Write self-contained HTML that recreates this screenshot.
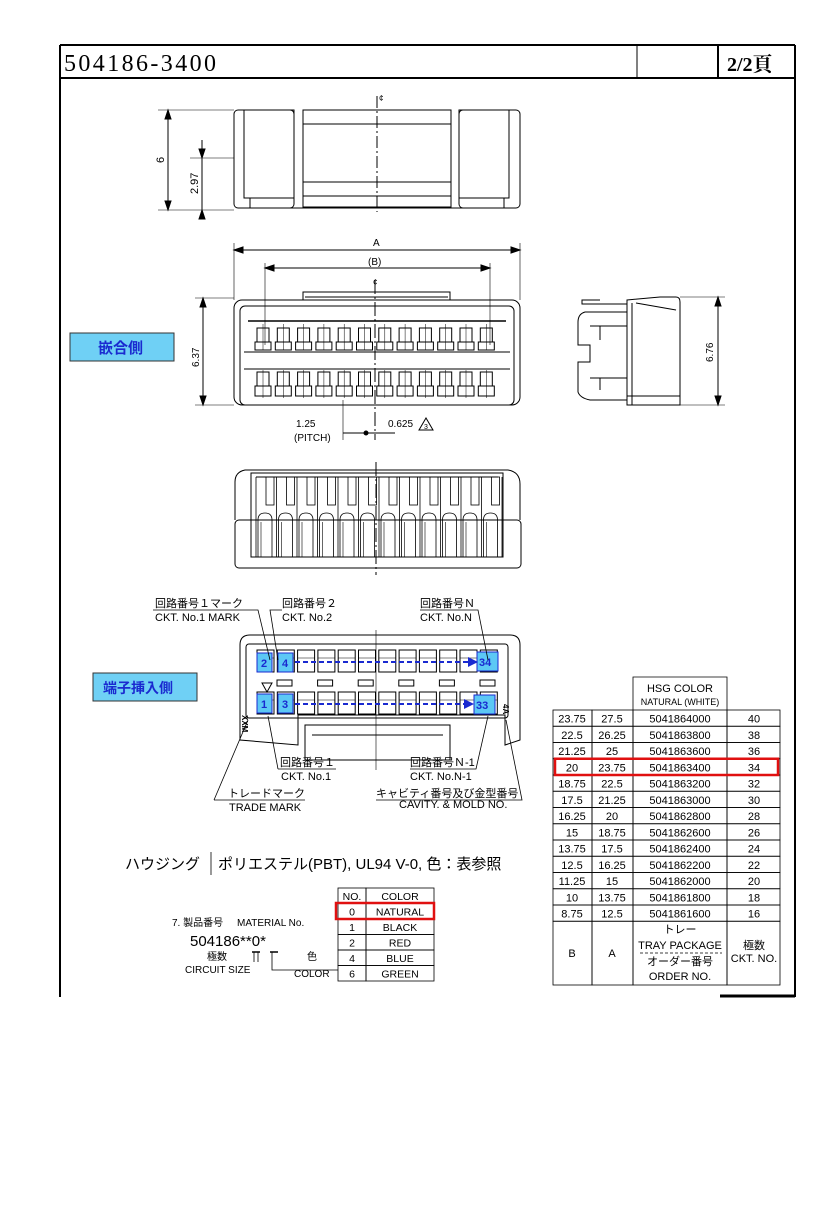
<!DOCTYPE html>
<html><head><meta charset="utf-8">
<style>
html,body{margin:0;padding:0;background:#fff;}
svg{display:block;}
text{font-family:"Liberation Sans","Noto Sans CJK JP",sans-serif;fill:#000;}
.s{font-family:"Liberation Serif","Noto Serif CJK SC",serif;}
</style></head><body>
<svg id="d" width="827" height="1205" viewBox="0 0 827 1205" xmlns="http://www.w3.org/2000/svg" fill="none" stroke="#000" stroke-width="1">
<line x1="60" y1="45" x2="795" y2="45" stroke-width="2"/>
<line x1="60" y1="45" x2="60" y2="997" stroke-width="2"/>
<line x1="795" y1="45" x2="795" y2="997" stroke-width="2"/>
<line x1="60" y1="78" x2="795" y2="78" stroke-width="2"/>
<line x1="637" y1="45" x2="637" y2="78"/>
<line x1="718" y1="45" x2="718" y2="78" stroke-width="2"/>
<line x1="720" y1="996" x2="795" y2="996" stroke-width="3"/>
<text x="64" y="71" class="s" font-size="24" stroke="none" textLength="152">504186-3400</text>
<text x="727" y="71" font-size="20" font-weight="bold" class="s" stroke="none">2/2頁</text>

<g stroke-width="1">
<rect x="234" y="110" width="60" height="98" rx="4"/>
<rect x="244" y="110" width="50" height="88"/>
<rect x="459" y="110" width="61" height="98" rx="4"/>
<rect x="459" y="110" width="50" height="88"/>
<rect x="303" y="110" width="148" height="97"/>
<line x1="303" y1="124" x2="451" y2="124"/>
<line x1="303" y1="182" x2="451" y2="182"/>
<line x1="303" y1="196" x2="451" y2="196"/>
<line x1="244" y1="208" x2="510" y2="208"/>
<line x1="250" y1="198" x2="250" y2="208"/><line x1="504" y1="198" x2="504" y2="208"/>
<line x1="377" y1="96" x2="377" y2="212" stroke-dasharray="12,3,2,3"/>
<line x1="158" y1="110" x2="234" y2="110" stroke-width=".6"/>
<line x1="190" y1="158" x2="234" y2="158" stroke-width=".6"/>
<line x1="158" y1="210" x2="234" y2="210" stroke-width=".6"/>
<line x1="168" y1="110" x2="168" y2="210"/>
<line x1="202" y1="140" x2="202" y2="215"/>
</g>
<path d="M168 110 l-3 9 h6z M168 210 l-3 -9 h6z M202 158 l-3 -9 h6z M202 210 l-3 9 h6z" fill="#000"/>
<text x="379" y="101" font-size="8" stroke="none">¢</text>
<text transform="translate(164,163) rotate(-90)" font-size="11" stroke="none">6</text>
<text transform="translate(198,194) rotate(-90)" font-size="11" stroke="none">2.97</text>

<line x1="234" y1="243" x2="234" y2="300" stroke-width=".6"/>
<line x1="520" y1="243" x2="520" y2="300" stroke-width=".6"/>
<line x1="234" y1="250" x2="520" y2="250"/>
<line x1="265" y1="263" x2="265" y2="345" stroke-width=".6"/>
<line x1="490" y1="263" x2="490" y2="345" stroke-width=".6"/>
<line x1="265" y1="268" x2="490" y2="268"/>
<path d="M234 250 l9 -3 v6z M520 250 l-9 -3 v6z M265 268 l9 -3 v6z M490 268 l-9 -3 v6z" fill="#000"/>
<text x="373" y="246" font-size="10" stroke="none">A</text>
<text x="368" y="265" font-size="10" stroke="none">(B)</text>
<text x="373" y="285" font-size="8" stroke="none">¢</text>
<line x1="195" y1="298" x2="234" y2="298" stroke-width=".6"/>
<line x1="195" y1="405" x2="234" y2="405" stroke-width=".6"/>
<line x1="203" y1="298" x2="203" y2="405"/>
<path d="M203 298 l-3 9 h6z M203 405 l-3 -9 h6z" fill="#000"/>
<text transform="translate(199,367) rotate(-90)" font-size="10" stroke="none">6.37</text>
<g id="front">
<rect x="234" y="300" width="286" height="105" rx="8"/>
<rect x="240" y="306" width="274" height="99" rx="5"/>
<path d="M303 300 V292 H450 V300"/>
<line x1="305" y1="297" x2="448" y2="297"/>
<line x1="248" y1="321" x2="506" y2="321" stroke-width="1.4"/>
<line x1="244" y1="369" x2="510" y2="369"/>
<line x1="244" y1="352" x2="510" y2="352"/>
</g>
<line x1="375" y1="280" x2="375" y2="440" stroke-dasharray="14,3,2,3"/>
<line x1="343" y1="433" x2="395" y2="433"/>
<circle cx="366" cy="433" r="2" fill="#000"/>
<line x1="343" y1="400" x2="343" y2="440" stroke-width=".6"/>
<text x="296" y="427" font-size="10" stroke="none">1.25</text>
<text x="294" y="441" font-size="10" stroke="none">(PITCH)</text>
<text x="388" y="427" font-size="10" stroke="none">0.625</text>
<path d="M419 430 l7 -12 l7 12z"/>
<text x="424" y="429" font-size="7" stroke="none">3</text>

<g>
<path d="M627 300 L660 297 L676 297 Q680 297 680 302 V405 H627 Z"/>
<line x1="632" y1="303" x2="632" y2="405"/>
<path d="M636 303 L676 310"/><line x1="627" y1="396" x2="680" y2="396"/>
<path d="M627 304 H582 V300 H600"/>
<path d="M627 312 H585 Q578 314 578 322 V345 H590 V362 H578 V392 Q580 398 590 400 H627"/>
<line x1="590" y1="326" x2="627" y2="326"/><line x1="590" y1="378" x2="627" y2="378"/>
<line x1="600" y1="326" x2="600" y2="340"/><line x1="600" y1="378" x2="600" y2="390"/>
<line x1="680" y1="297" x2="725" y2="297" stroke-width=".6"/>
<line x1="680" y1="405" x2="725" y2="405" stroke-width=".6"/>
<line x1="718" y1="297" x2="718" y2="405"/>
<path d="M718 297 l-3 9 h6z M718 405 l-3 -9 h6z" fill="#000"/>
</g>
<text transform="translate(713,362) rotate(-90)" font-size="10" stroke="none">6.76</text>

<rect x="70" y="333" width="104" height="28" fill="#6fd0f5" stroke="#333"/>
<text x="98" y="353" font-size="15" font-weight="bold" style="fill:#1a2ad0" stroke="none">嵌合側</text>

<g id="bot">
<path d="M235 520 V482 Q235 472 245 470 H508 Q520 472 520 484 V520"/>
<rect x="235" y="520" width="286" height="48" rx="4"/>
<rect x="251" y="473" width="252" height="84"/>
<line x1="256" y1="477" x2="498" y2="477"/>
</g>
<line x1="376" y1="462" x2="376" y2="575" stroke-dasharray="14,3,2,3"/>

<g>
<path d="M240 740 V645 Q240 635 250 635 H510 Q520 635 520 645 V740 L505 745 V715 H298 V745 Z"/>
<rect x="246" y="644" width="262" height="74" rx="3"/>
<path d="M305 725 H450 V760 H305 Z"/>
<line x1="312" y1="735" x2="443" y2="735"/>
</g>
<line x1="376" y1="630" x2="376" y2="770" stroke-width=".6"/>
<g id="rear" stroke-width="1"></g>
<text x="247" y="726" font-size="8" font-weight="bold" stroke="none" transform="rotate(90,250,718)">XXM</text>
<text x="502" y="715" font-size="8" font-weight="bold" stroke="none" transform="rotate(90,508,710)">4A</text>
<path d="M262 683 h10 l-5 9z"/>
<rect x="93" y="673" width="104" height="28" fill="#6fd0f5" stroke="#333"/>
<text x="103" y="693" font-size="14" font-weight="bold" style="fill:#1a2ad0" stroke="none">端子挿入側</text>
<g font-size="11" stroke="none">
<text x="155" y="607">回路番号１マーク</text>
<text x="155" y="621">CKT. No.1 MARK</text>
<text x="282" y="607">回路番号２</text>
<text x="282" y="621">CKT. No.2</text>
<text x="420" y="607">回路番号Ｎ</text>
<text x="420" y="621">CKT. No.N</text>
<text x="280" y="766">回路番号１</text>
<text x="281" y="780">CKT. No.1</text>
<text x="410" y="766">回路番号Ｎ-1</text>
<text x="410" y="780">CKT. No.N-1</text>
<text x="228" y="797">トレードマーク</text>
<text x="229" y="811">TRADE MARK</text>
<text x="376" y="797">キャビティ番号及び金型番号</text>
<text x="399" y="808">CAVITY. &amp; MOLD NO.</text>
</g>
<g stroke-width=".8">
<path d="M153 610 H258 L270 660"/>
<path d="M282 610 H270 L278 660"/>
<path d="M420 610 H478 L488 660"/>
<path d="M278 769 H336"/><path d="M278 769 L268 716"/>
<path d="M410 769 H476 L488 716"/>
<path d="M214 800 H305"/><path d="M214 800 L248 720"/>
<path d="M376 800 H522 L506 720"/>
</g>

<text x="125" y="869" font-size="15" stroke="none">ハウジング</text>
<line x1="211" y1="852" x2="211" y2="875" stroke-width=".8"/>
<text x="218" y="869" font-size="15" stroke="none">ポリエステル(PBT), UL94 V-0, 色：表参照</text>

<g font-size="10" stroke="none">
<text x="172" y="926">7. 製品番号</text>
<text x="237" y="926">MATERIAL No.</text>
<text x="190" y="946" font-size="15">504186**0*</text>
<text x="207" y="960">極数</text>
<text x="185" y="973">CIRCUIT SIZE</text>
<text x="307" y="960">色</text>
<text x="294" y="977">COLOR</text>
</g>
<path d="M254 952 V962 M258 952 V962 M272 952 V958 M272 958 V970 H338" stroke-width=".8"/>
<path d="M270 952 h8 M252 952 h8" stroke-width="1.5"/>
<g id="mt"></g>
<g id="tb"></g>
</svg>
<script>
var NS="http://www.w3.org/2000/svg";
function el(p,t,a,txt){var e=document.createElementNS(NS,t);for(var k in a)e.setAttribute(k,a[k]);if(txt!=null)e.textContent=txt;p.appendChild(e);return e;}
var f=document.getElementById("front"),r=document.getElementById("rear"),b=document.getElementById("bot");
for(var i=0;i<12;i++){var x=257+i*20.3;
 el(f,"rect",{x:x,y:328,width:12,height:14});el(f,"rect",{x:x-2,y:342,width:16,height:8});
 el(f,"rect",{x:x,y:372,width:12,height:14});el(f,"rect",{x:x-2,y:386,width:16,height:10});
 el(f,"line",{x1:x+6,y1:324,x2:x+6,y2:350,"stroke-width":.5});el(f,"line",{x1:x+6,y1:370,x2:x+6,y2:398,"stroke-width":.5});
 el(r,"rect",{x:x,y:650,width:17,height:22});el(r,"rect",{x:x,y:692,width:17,height:22});
 el(r,"line",{x1:x,y1:658,x2:x+17,y2:658,"stroke-width":.6});el(r,"line",{x1:x,y1:700,x2:x+17,y2:700,"stroke-width":.6});
 if(i%2==0){el(r,"rect",{x:x+20,y:680,width:15,height:6});}
 var bx=256+i*20.5;
 el(b,"line",{x1:bx,y1:477,x2:bx,y2:557,"stroke-width":.8});
 el(b,"rect",{x:bx+10,y:477,width:8,height:28,"stroke-width":.8});
 el(b,"path",{d:"M"+(bx+2)+" 557 V520 Q"+(bx+2)+" 513 "+(bx+9)+" 513 Q"+(bx+16)+" 513 "+(bx+16)+" 520 V557","stroke-width":.8});
 el(b,"line",{x1:bx+5,y1:522,x2:bx+5,y2:557,"stroke-width":.6});
}
el(b,"line",{x1:502,y1:477,x2:502,y2:557,"stroke-width":.8});
[[257,653,"2"],[278,653,"4"],[477,652,"34"],[257,694,"1"],[278,694,"3"],[474,695,"33"]].forEach(function(c){
 var w=c[2].length>1?21:15;el(r,"rect",{x:c[0],y:c[1],width:w,height:19,fill:"#5cc8f5",stroke:"#1a2ad0"});
 el(r,"text",{x:c[0]+(w==15?4:2),y:c[1]+14,"font-size":11,"font-weight":"bold",stroke:"none",style:"fill:#1a2ad0"},c[2]);
});
el(r,"line",{x1:295,y1:662,x2:468,y2:662,stroke:"#1a2ad0","stroke-width":2,"stroke-dasharray":"5,3"});
el(r,"path",{d:"M468 657 l10 5 l-10 5z",fill:"#1a2ad0",stroke:"none"});
el(r,"line",{x1:295,y1:704,x2:464,y2:704,stroke:"#1a2ad0","stroke-width":2,"stroke-dasharray":"5,3"});
el(r,"path",{d:"M464 699 l10 5 l-10 5z",fill:"#1a2ad0",stroke:"none"});
var mt=document.getElementById("mt");var mrows=[["NO.","COLOR"],["0","NATURAL"],["1","BLACK"],["2","RED"],["4","BLUE"],["6","GREEN"]];
for(var j=0;j<6;j++){var y=888+j*15.5;el(mt,"rect",{x:338,y:y,width:28,height:15.5,"stroke-width":.8});el(mt,"rect",{x:366,y:y,width:68,height:15.5,"stroke-width":.8});
 el(mt,"text",{x:352,y:y+12,"font-size":10.5,"text-anchor":"middle",stroke:"none"},mrows[j][0]);
 el(mt,"text",{x:400,y:y+12,"font-size":10.5,"text-anchor":"middle",stroke:"none"},mrows[j][1]);}
el(mt,"rect",{x:336,y:903,width:98,height:16,stroke:"#e01010","stroke-width":2.5});
var tb=document.getElementById("tb");
el(tb,"path",{d:"M633 710 V677 H727 V710","stroke-width":.8});
el(tb,"text",{x:680,y:692,"font-size":11,"text-anchor":"middle",stroke:"none"},"HSG COLOR");
el(tb,"text",{x:680,y:705,"font-size":9,"text-anchor":"middle",stroke:"none"},"NATURAL (WHITE)");
var rows=[["23.75","27.5","5041864000","40"],["22.5","26.25","5041863800","38"],["21.25","25","5041863600","36"],["20","23.75","5041863400","34"],["18.75","22.5","5041863200","32"],["17.5","21.25","5041863000","30"],["16.25","20","5041862800","28"],["15","18.75","5041862600","26"],["13.75","17.5","5041862400","24"],["12.5","16.25","5041862200","22"],["11.25","15","5041862000","20"],["10","13.75","5041861800","18"],["8.75","12.5","5041861600","16"]];
var cx=[553,592,633,727,780];
for(var k=0;k<13;k++){var y=710+k*16.25;
 for(var c=0;c<4;c++){el(tb,"rect",{x:cx[c],y:y,width:cx[c+1]-cx[c],height:16.25,"stroke-width":.8});
  var tx=c==0?572:(c==1?612:(c==2?680:754));
  el(tb,"text",{x:tx,y:y+12.5,"font-size":11,"text-anchor":"middle",stroke:"none"},rows[k][c]);}}
var fy=710+13*16.25;
for(var c=0;c<4;c++)el(tb,"rect",{x:cx[c],y:fy,width:cx[c+1]-cx[c],height:985-fy,"stroke-width":.8});
el(tb,"text",{x:572,y:957,"font-size":11,"text-anchor":"middle",stroke:"none"},"B");
el(tb,"text",{x:612,y:957,"font-size":11,"text-anchor":"middle",stroke:"none"},"A");
el(tb,"text",{x:680,y:933,"font-size":11,"text-anchor":"middle",stroke:"none"},"トレー");
el(tb,"text",{x:680,y:949,"font-size":11,"text-anchor":"middle",stroke:"none"},"TRAY PACKAGE");
el(tb,"line",{x1:640,y1:953,x2:722,y2:953,"stroke-width":.8,"stroke-dasharray":"3,2"});
el(tb,"text",{x:680,y:965,"font-size":11,"text-anchor":"middle",stroke:"none"},"オーダー番号");
el(tb,"text",{x:680,y:980,"font-size":11,"text-anchor":"middle",stroke:"none"},"ORDER NO.");
el(tb,"text",{x:754,y:949,"font-size":11,"text-anchor":"middle",stroke:"none"},"極数");
el(tb,"text",{x:754,y:962,"font-size":11,"text-anchor":"middle",stroke:"none"},"CKT. NO.");
el(tb,"rect",{x:555,y:758.75,width:223,height:16.25,stroke:"#e01010","stroke-width":2.5});
</script>
</body></html>
